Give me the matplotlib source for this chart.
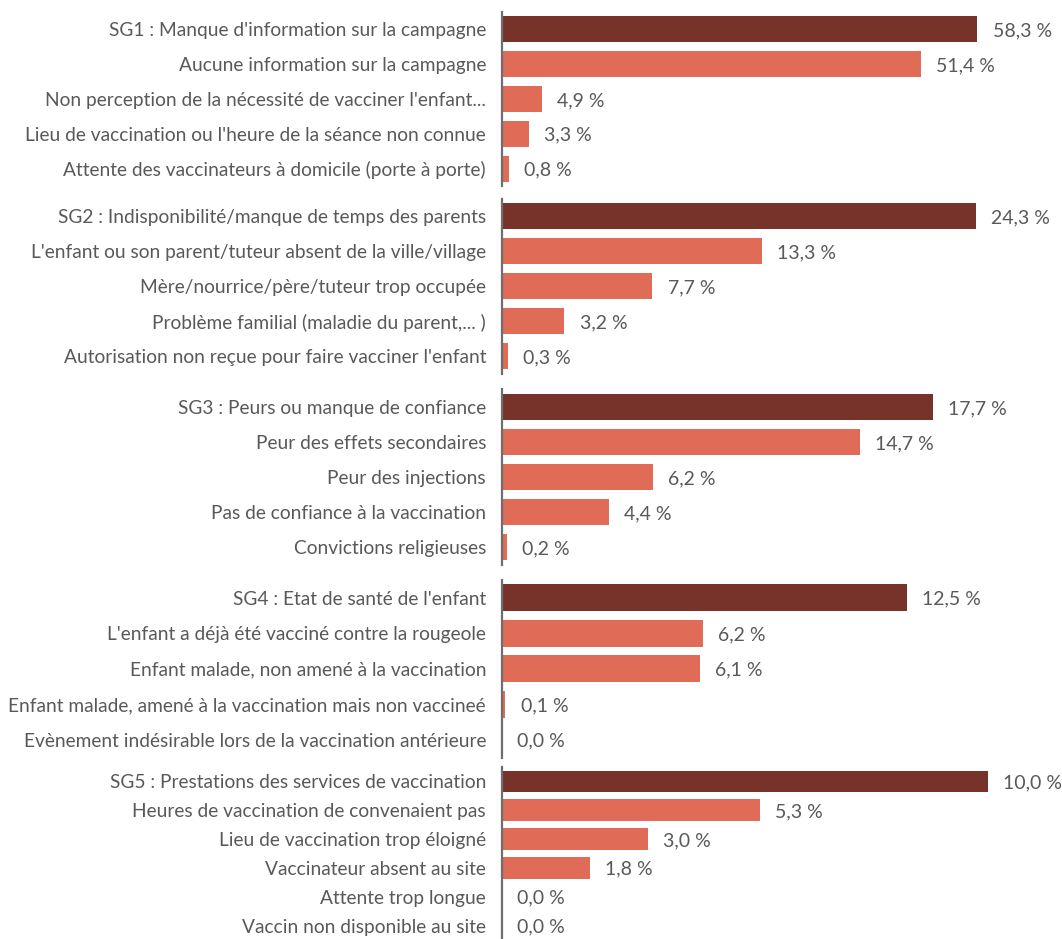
import matplotlib
matplotlib.use("Agg")
import matplotlib.pyplot as plt

# ---- data ----
sg1_labels = ["SG1 : Manque d'information sur la campagne",
              "Aucune information sur la campagne",
              "Non perception de la nécessité de vacciner l'enfant...",
              "Lieu de vaccination ou l'heure de la séance non connue",
              "Attente des vaccinateurs à domicile (porte à porte)"]
sg1_values = [58.3, 51.4, 4.9, 3.3, 0.8]

sg2_labels = ["SG2 : Indisponibilité/manque de temps des parents",
              "L'enfant ou son parent/tuteur absent de la ville/village",
              "Mère/nourrice/père/tuteur trop occupée",
              "Problème familial (maladie du parent,... )",
              "Autorisation non reçue pour faire vacciner l'enfant"]
sg2_values = [24.3, 13.3, 7.7, 3.2, 0.3]

sg3_labels = ["SG3 : Peurs ou manque de confiance",
              "Peur des effets secondaires",
              "Peur des injections",
              "Pas de confiance à la vaccination",
              "Convictions religieuses"]
sg3_values = [17.7, 14.7, 6.2, 4.4, 0.2]

sg4_labels = ["SG4 : Etat de santé de l'enfant",
              "L'enfant a déjà été vacciné contre la rougeole",
              "Enfant malade, non amené à la vaccination",
              "Enfant malade, amené à la vaccination mais non vaccineé",
              "Evènement indésirable lors de la vaccination antérieure"]
sg4_values = [12.5, 6.2, 6.1, 0.1, 0.0]

sg5_labels = ["SG5 : Prestations des services de vaccination",
              "Heures de vaccination de convenaient pas",
              "Lieu de vaccination trop éloigné",
              "Vaccinateur absent au site",
              "Attente trop longue",
              "Vaccin non disponible au site"]
sg5_values = [10.0, 5.3, 3.0, 1.8, 0.0, 0.0]

all_labels = [sg1_labels, sg2_labels, sg3_labels, sg4_labels, sg5_labels]
all_values = [sg1_values, sg2_values, sg3_values, sg4_values, sg5_values]
x_max = [68.7, 28.7, 23.0, 17.28, 11.52]

# ---- layout ----
W, H = 1062, 939
fig = plt.figure(figsize=(W / 100, H / 100), dpi=100)
plt.rcParams['font.family'] = ['Lato', 'DejaVu Sans']

dark = "#77332A"
light = "#E06B57"
txt = "#595959"
spine_c = "#6E6E6E"

axes_px = [(12, 186), (198.5, 373.5), (389.5, 564.5), (580, 757.5), (767, 940)]
left_px, width_px = 502, 560

for labels, values, xm, (top, bot) in zip(all_labels, all_values, x_max, axes_px):
    ax = fig.add_axes([left_px / W, 1 - bot / H, width_px / W, (bot - top) / H])
    n = len(values)
    ys = list(range(n))
    colors = [dark] + [light] * (n - 1)
    ax.barh(ys, values, height=0.75, color=colors, left=0)
    ax.set_ylim(n - 0.5, -0.5)
    ax.set_xlim(0, xm)
    ax.set_yticks(ys)
    ax.set_yticklabels(labels, fontsize=13.75, color=txt)
    ax.tick_params(axis='y', length=0, pad=11.5)
    ax.set_xticks([])
    for s in ['top', 'right', 'bottom']:
        ax.spines[s].set_visible(False)
    ax.spines['left'].set_color(spine_c)
    ax.spines['left'].set_linewidth(1.6)
    for y, v in zip(ys, values):
        ax.annotate(f"{v:.1f} %".replace('.', ','), xy=(v, y), xytext=(11, -1),
                    textcoords='offset points', va='center', ha='left',
                    fontsize=14, color=txt, annotation_clip=False)
    ax.patch.set_alpha(0)

fig.savefig("out.png", dpi=100)
